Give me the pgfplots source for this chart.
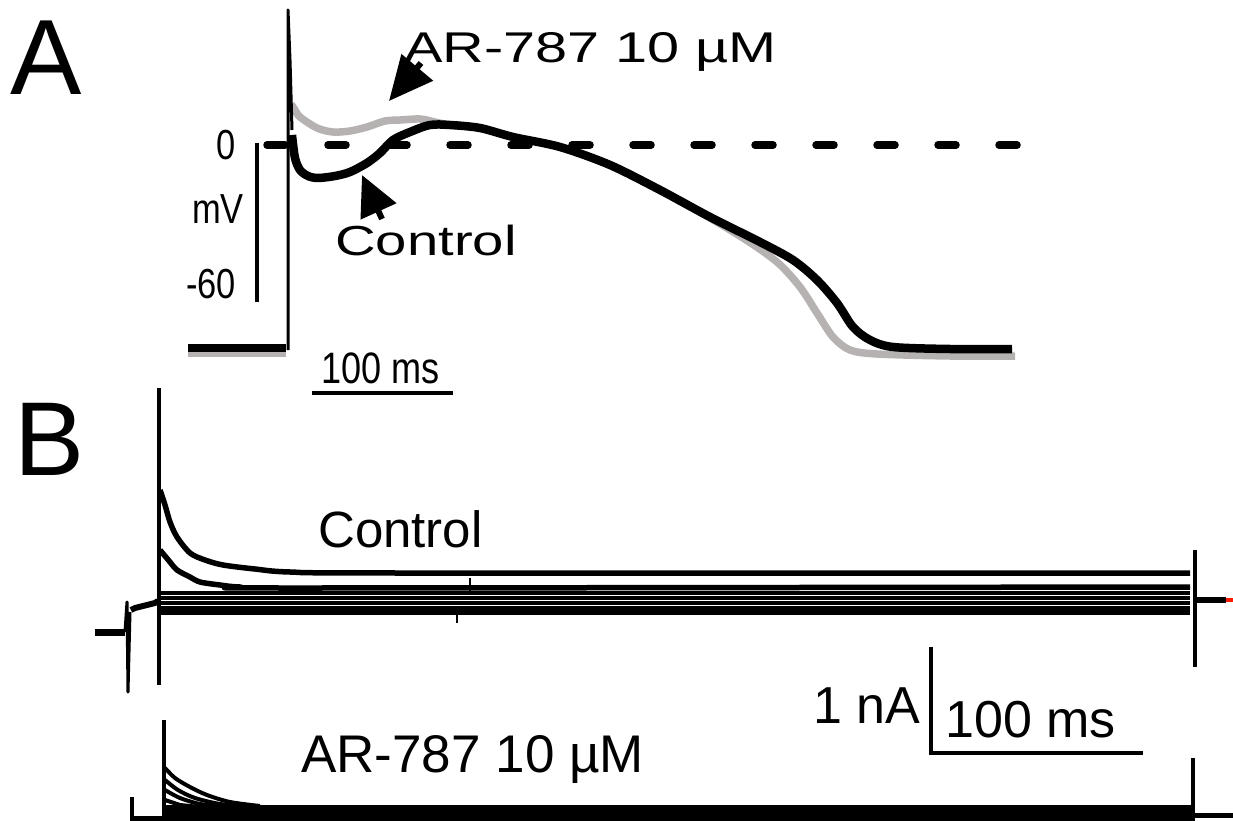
\documentclass[border=0pt]{standalone}
\usepackage{pgfplots}
\pgfplotsset{compat=1.18}
\usepackage{fontspec}
\setmainfont{Liberation Sans}
\newfontfamily\widesans[FakeStretch=1.34]{Liberation Sans}
\newfontfamily\narrowsans[FakeStretch=0.82]{Liberation Sans}
\usetikzlibrary{arrows.meta}
\definecolor{trgray}{RGB}{183,178,178}
\begin{document}
\begin{tikzpicture}
\useasboundingbox (0,0) rectangle (1233pt,821pt);
\begin{axis}[at={(0,0)}, anchor=south west, width=1233pt, height=821pt, scale only axis,
  xmin=0, xmax=1233, ymin=0, ymax=821, y dir=reverse, axis lines=none, clip=false]
% ---------------- Panel A ----------------
% dashed zero line
\addplot[black, line width=7.5pt, line cap=round, dash pattern=on 18pt off 43pt] coordinates {(267,145) (1018,145)};
% AR-787 trace (gray)
\addplot[trgray, line width=7.5pt, line join=round] coordinates {
(188,353) (286,353)};
\addplot[trgray, line width=7.5pt, line join=round, smooth, tension=0.5] coordinates {
(291,104) (295,110) (300,117) (317,128) (333,132) (350,131) (367,127)
(385,121) (400,120) (420,119) (435,122) (450,125) (480,128) (513,137) (560,147) (610,165) (660,190)
(693,208) (743,238) (777,262) (800,287) (817,313) (833,337) (850,350) (877,354) (950,356) (1015,356)};
% Control trace (black)
\addplot[black, line width=8.5pt, line join=round] coordinates {
(188,348) (286,348)};
\addplot[black, line width=3pt, line join=round] coordinates {
(288,350) (288,10) (290,60) (292,130)};
\addplot[black, line width=8.5pt, line join=round, smooth, tension=0.5] coordinates {
(292,135) (295,158) (300,170) (308,176) (318,178) (335,176) (350,172) (367,163) (380,153) (393,140)
(410,132) (430,125) (450,125) (480,128) (513,137) (560,147) (610,165) (660,190) (710,217) (760,242)
(793,260) (817,280) (837,303) (853,327) (870,340) (893,347) (950,349) (1012,349)};
% scale bars A
\addplot[black, line width=4pt] coordinates {(257,143) (257,302)};
\addplot[black, line width=3.5pt] coordinates {(312,393) (453,393)};
% arrows A
\addplot[black, line width=6pt, -{Triangle[length=44pt,width=40pt]}] coordinates {(421,63) (389,101)};
\addplot[black, line width=6pt, -{Triangle[length=40pt,width=38pt]}] coordinates {(382,219) (362,175)};
% ---------------- Panel B: Control ----------------
\addplot[black, line width=7pt] coordinates {(95,632) (125,632)};
\addplot[black, line width=3pt, line join=round] coordinates {(125,632) (127,602) (128,692) (130,612)};
\addplot[black, line width=6pt, line join=round] coordinates {(131,610) (135,608) (155,603) (158,601)};
\addplot[black, line width=3.5pt] coordinates {(159,388) (159,685)};
\addplot[black, line width=5.5pt, line join=round, smooth, tension=0.5] coordinates {
(160,490) (165,505) (170,522) (177,537) (190,553) (205,560) (223,565) (255,569) (290,572) (400,573) (1190,573)};
\addplot[black, line width=5.5pt, line join=round, smooth, tension=0.5] coordinates {
(160,550) (170,562) (177,570) (190,577) (200,582) (220,585) (240,587) (300,588) (1190,587)};
\addplot[black, line width=4.8pt] coordinates {(160,593) (1190,593)};
\addplot[black, line width=4.8pt] coordinates {(160,598) (1190,598)};
\addplot[black, line width=4.8pt] coordinates {(160,603) (1190,603)};
\addplot[black, line width=4.8pt] coordinates {(160,608) (1190,608)};
\addplot[black, line width=4.8pt] coordinates {(160,612.5) (1190,612.5)};
\addplot[black, line width=2.5pt] coordinates {(457,606) (457,623)};
\addplot[black, line width=2.5pt] coordinates {(470,578) (470,592)};
\addplot[black, line width=3.5pt] coordinates {(1195,550) (1195,667)};
\addplot[black, line width=6pt] coordinates {(1197,600) (1226,600)};
\addplot[red!80!orange, line width=4pt] coordinates {(1226,600) (1233,600)};
% ---------------- Panel B: AR-787 ----------------
\addplot[black, line width=3.5pt] coordinates {(164,720) (164,821)};
\addplot[black, line width=3.5pt] coordinates {(132,797) (132,821)};
\addplot[black, line width=5pt] coordinates {(132,818) (162,818)};
\addplot[fill=black, draw=none] coordinates {(165,805) (1193,805) (1193,821) (165,821)};
\addplot[black, line width=4pt, line join=round, smooth, tension=0.5] coordinates {(165,768) (175,778) (190,787) (207,795) (230,802) (260,806)};
\addplot[black, line width=4pt, line join=round, smooth, tension=0.5] coordinates {(165,780) (178,790) (195,798) (220,804) (245,806)};
\addplot[black, line width=4pt, line join=round, smooth, tension=0.5] coordinates {(165,790) (180,798) (200,804) (220,806)};
\addplot[black, line width=4pt, line join=round] coordinates {(165,800) (180,805) (200,807)};
\addplot[black, line width=3.5pt] coordinates {(1193,758) (1193,821)};
\addplot[black, line width=5pt] coordinates {(1193,815) (1233,815)};
% scale bar B
\addplot[black, line width=4pt] coordinates {(931,647) (931,753) (1143,753)};
% ---------------- Text ----------------
\node[anchor=base west, inner sep=0pt] at (axis cs:10,95) {\fontsize{107}{107}\selectfont A};
\node[anchor=base west, inner sep=0pt] at (axis cs:14,475) {\fontsize{105}{105}\selectfont B};
\node[anchor=base west, inner sep=0pt] at (axis cs:404,63) {\widesans\fontsize{43}{43}\selectfont AR-787 10 µM};
\node[anchor=base west, inner sep=0pt] at (axis cs:335,255) {\widesans\fontsize{42}{42}\selectfont Control};
\node[anchor=base west, inner sep=0pt] at (axis cs:216,160) {\narrowsans\fontsize{42}{42}\selectfont 0};
\node[anchor=base west, inner sep=0pt] at (axis cs:192,223) {\narrowsans\fontsize{42}{42}\selectfont mV};
\node[anchor=base west, inner sep=0pt] at (axis cs:186,298) {\narrowsans\fontsize{42}{42}\selectfont -60};
\node[anchor=base west, inner sep=0pt] at (axis cs:321,383) {\narrowsans\fontsize{44}{44}\selectfont 100 ms};
\node[anchor=base west, inner sep=0pt] at (axis cs:318,547) {\fontsize{51}{51}\selectfont Control};
\node[anchor=base west, inner sep=0pt] at (axis cs:813,723) {\fontsize{52}{52}\selectfont 1 nA};
\node[anchor=base west, inner sep=0pt] at (axis cs:945,737) {\fontsize{52}{52}\selectfont 100 ms};
\node[anchor=base west, inner sep=0pt] at (axis cs:301,772) {\fontsize{53}{53}\selectfont AR-787 10 µM};
\end{axis}
\end{tikzpicture}
\end{document}
